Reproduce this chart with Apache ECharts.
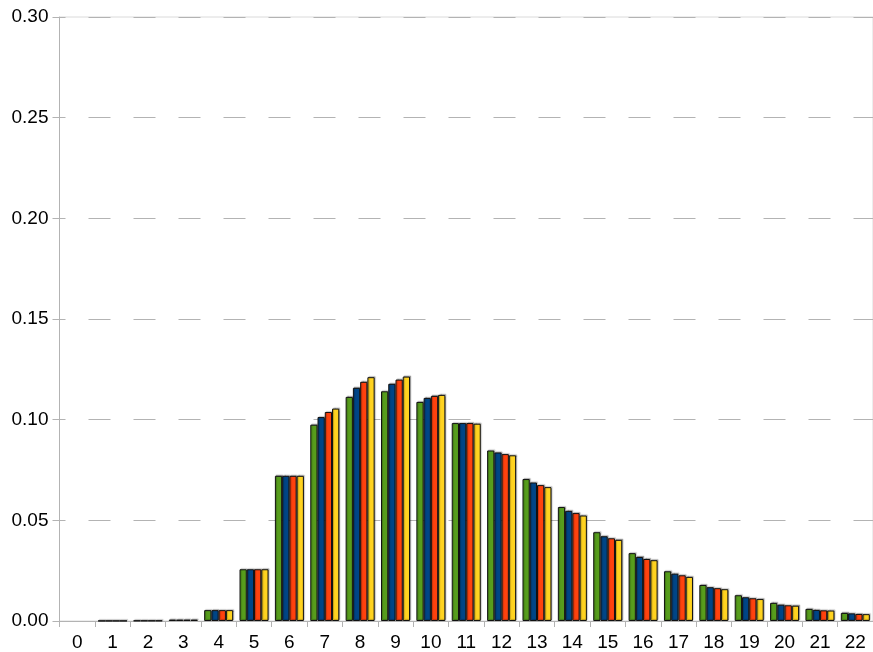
<!DOCTYPE html>
<html>
<head>
<meta charset="utf-8">
<script src="https://cdn.jsdelivr.net/npm/echarts@6/dist/echarts.min.js"></script>
<style>html,body{margin:0;padding:0;background:#fff}#c{width:873px;height:652px}</style>
</head>
<body>
<div id="c"></div>
<script>
const categories = ['0','1','2','3','4','5','6','7','8','9','10','11','12','13','14','15','16','17','18','19','20','21','22'];
const yTicks = [0, 0.05, 0.10, 0.15, 0.20, 0.25, 0.30];
const seriesGreen  = [0, 0.0001, 0.0002, 0.0007, 0.0054, 0.0257, 0.0721, 0.0975, 0.1113, 0.1141, 0.1088, 0.0983, 0.0847, 0.0705, 0.0566, 0.0441, 0.0337, 0.0247, 0.0179, 0.0128, 0.0090, 0.0060, 0.0040];
const seriesBlue   = [0, 0.0001, 0.0002, 0.0007, 0.0054, 0.0257, 0.0721, 0.1013, 0.1158, 0.1178, 0.1108, 0.0983, 0.0837, 0.0688, 0.0547, 0.0421, 0.0318, 0.0235, 0.0168, 0.0118, 0.0081, 0.0055, 0.0038];
const seriesRed    = [0, 0.0001, 0.0002, 0.0007, 0.0054, 0.0257, 0.0721, 0.1038, 0.1188, 0.1199, 0.1118, 0.0983, 0.0829, 0.0675, 0.0536, 0.0411, 0.0308, 0.0227, 0.0163, 0.0113, 0.0078, 0.0053, 0.0035];
const seriesYellow = [0, 0.0001, 0.0002, 0.0007, 0.0054, 0.0257, 0.0721, 0.1055, 0.1211, 0.1214, 0.1123, 0.0980, 0.0823, 0.0665, 0.0524, 0.0403, 0.0302, 0.0219, 0.0158, 0.0109, 0.0076, 0.0052, 0.0034];
const seriesNames = ['Series 1', 'Series 2', 'Series 3', 'Series 4'];
const colors = ['#579d1c', '#004586', '#ff420e', '#ffd320'];

const chart = echarts.init(document.getElementById('c'), null, {renderer: 'canvas'});
const font = 'Liberation Sans, Arial, sans-serif';
function mk(name, data, color) {
  return {
    name: name, type: 'bar',
    data: data.map(v => v === 0 ? {value: 0, itemStyle: {borderWidth: 0, shadowColor: 'transparent'}} : v),
    barGap: '0%', barCategoryGap: '18%',
    itemStyle: {color: color, borderColor: '#111', borderWidth: 1,
      shadowColor: 'rgba(0,0,0,0.25)', shadowBlur: 1, shadowOffsetX: 1, shadowOffsetY: -1},
    emphasis: {disabled: true}
  };
}
chart.setOption({
  animation: false,
  backgroundColor: '#ffffff',
  grid: {left: 59.5, top: 17, width: 817, bottom: 31, show: true, borderColor: '#dadada', borderWidth: 1, containLabel: false},
  xAxis: {
    type: 'category', data: categories,
    axisLine: {lineStyle: {color: '#b3b3b3', width: 1}},
    axisTick: {show: true, length: 6, lineStyle: {color: '#b3b3b3'}},
    axisLabel: {color: '#000', fontFamily: font, fontSize: 19, margin: 12, interval: 0},
    splitLine: {show: false}
  },
  yAxis: {
    type: 'value', min: 0, max: 0.30, interval: 0.05,
    axisLine: {show: true, lineStyle: {color: '#b3b3b3', width: 1}},
    axisTick: {show: true, length: 7, lineStyle: {color: '#b3b3b3'}},
    axisLabel: {color: '#000', fontFamily: font, fontSize: 19, margin: 11,
      formatter: v => { const t = yTicks.find(x => Math.abs(x - v) < 1e-9); return (t !== undefined ? t : v).toFixed(2); }},
    splitLine: {show: true, lineStyle: {color: '#b3b3b3', width: 1, type: [22, 23], dashOffset: 16}}
  },
  series: [
    mk(seriesNames[0], seriesGreen, colors[0]),
    mk(seriesNames[1], seriesBlue, colors[1]),
    mk(seriesNames[2], seriesRed, colors[2]),
    mk(seriesNames[3], seriesYellow, colors[3])
  ]
});
</script>
</body>
</html>
